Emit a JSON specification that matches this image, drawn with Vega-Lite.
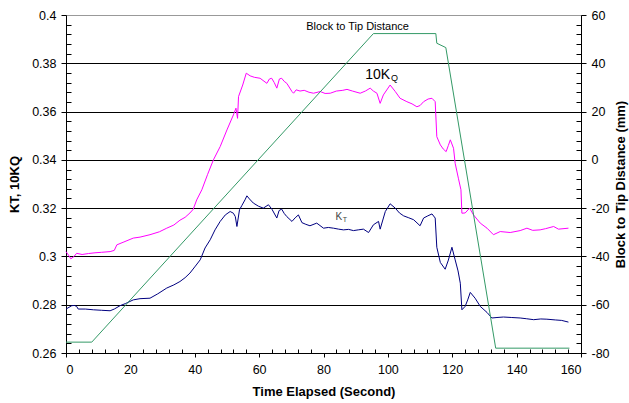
{
  "$schema": "https://vega.github.io/schema/vega-lite/v6.json",
  "width": 515,
  "height": 338,
  "autosize": {"type": "none"},
  "padding": {"left": 66, "top": 15, "right": 48, "bottom": 50},
  "background": "white",
  "config": {
    "font": "Liberation Sans",
    "view": {"stroke": "#999999", "strokeWidth": 1},
    "axis": {
      "labelFont": "Liberation Sans", "labelFontSize": 12.5, "labelColor": "black",
      "titleFont": "Liberation Sans", "titleFontSize": 13, "titleFontWeight": "bold", "titleColor": "black",
      "domainColor": "black", "tickColor": "black", "gridColor": "black", "gridOpacity": 1, "gridWidth": 1
    }
  },
  "datasets": {
    "kq": [
      {"t":0,"v":0.302},{"t":0.8,"v":0.3005},{"t":1.5,"v":0.299},{"t":2.5,"v":0.3},{"t":3.3,"v":0.3013},{"t":5,"v":0.3008},{"t":7,"v":0.3012},{"t":9,"v":0.3015},{"t":11,"v":0.3017},{"t":13.7,"v":0.302},{"t":15,"v":0.3025},{"t":15.8,"v":0.3048},{"t":18,"v":0.306},{"t":20.9,"v":0.3076},{"t":23,"v":0.308},{"t":26.1,"v":0.309},{"t":29,"v":0.3102},{"t":31.3,"v":0.3117},{"t":33.5,"v":0.313},{"t":35.4,"v":0.315},{"t":37,"v":0.3162},{"t":38.5,"v":0.318},{"t":39.5,"v":0.3195},{"t":40.6,"v":0.3234},{"t":42.2,"v":0.3276},{"t":44,"v":0.334},{"t":45.8,"v":0.34},{"t":47.9,"v":0.3455},{"t":50,"v":0.3524},{"t":52,"v":0.3586},{"t":52.8,"v":0.3614},{"t":53.3,"v":0.3572},{"t":53.6,"v":0.3662},{"t":54.9,"v":0.371},{"t":56,"v":0.3759},{"t":57.2,"v":0.3748},{"t":58.5,"v":0.3742},{"t":60.3,"v":0.3738},{"t":62.4,"v":0.3717},{"t":63.2,"v":0.3735},{"t":63.9,"v":0.3738},{"t":64.7,"v":0.372},{"t":65.5,"v":0.3697},{"t":66.3,"v":0.3735},{"t":67,"v":0.3738},{"t":67.8,"v":0.3725},{"t":68.6,"v":0.3717},{"t":70.2,"v":0.3683},{"t":70.7,"v":0.3676},{"t":71.5,"v":0.369},{"t":72.7,"v":0.3685},{"t":74,"v":0.3688},{"t":75.5,"v":0.368},{"t":76.9,"v":0.3676},{"t":79,"v":0.3683},{"t":80.5,"v":0.3675},{"t":82.1,"v":0.3676},{"t":84,"v":0.3685},{"t":86,"v":0.3688},{"t":87.3,"v":0.3692},{"t":89,"v":0.3685},{"t":91.4,"v":0.3676},{"t":93,"v":0.3685},{"t":94.5,"v":0.3697},{"t":95.5,"v":0.3685},{"t":96.6,"v":0.3676},{"t":97.6,"v":0.3634},{"t":98.6,"v":0.3669},{"t":100.7,"v":0.371},{"t":102.3,"v":0.3683},{"t":103.8,"v":0.3655},{"t":105.9,"v":0.3641},{"t":107.5,"v":0.3632},{"t":109,"v":0.362},{"t":110,"v":0.3625},{"t":111.1,"v":0.3641},{"t":112.5,"v":0.3652},{"t":113.7,"v":0.3655},{"t":114.7,"v":0.3641},{"t":115.2,"v":0.3496},{"t":116.3,"v":0.3462},{"t":117.2,"v":0.3445},{"t":118.1,"v":0.3434},{"t":118.8,"v":0.346},{"t":119.4,"v":0.3483},{"t":120.4,"v":0.3448},{"t":120.9,"v":0.3386},{"t":121.9,"v":0.3324},{"t":122.7,"v":0.3276},{"t":123,"v":0.3179},{"t":124,"v":0.318},{"t":125.4,"v":0.32},{"t":126.6,"v":0.3172},{"t":128.7,"v":0.3138},{"t":130.8,"v":0.3117},{"t":132.8,"v":0.309},{"t":134.9,"v":0.3103},{"t":138,"v":0.3099},{"t":141.1,"v":0.3107},{"t":143.2,"v":0.3117},{"t":145,"v":0.3108},{"t":147.3,"v":0.311},{"t":149,"v":0.3115},{"t":151.5,"v":0.3124},{"t":153,"v":0.3113},{"t":156.1,"v":0.3117}
    ],
    "kt": [
      {"t":0,"v":0.2782},{"t":1.8,"v":0.2796},{"t":2.6,"v":0.2797},{"t":3.3,"v":0.2793},{"t":3.8,"v":0.2782},{"t":6,"v":0.2782},{"t":8.5,"v":0.2779},{"t":11,"v":0.2777},{"t":13.7,"v":0.2775},{"t":15,"v":0.2782},{"t":16.8,"v":0.2796},{"t":18.5,"v":0.2805},{"t":20.9,"v":0.282},{"t":23,"v":0.2825},{"t":26.1,"v":0.2827},{"t":28.5,"v":0.2845},{"t":31.3,"v":0.2869},{"t":33.5,"v":0.2882},{"t":35.4,"v":0.2896},{"t":37,"v":0.2912},{"t":38.5,"v":0.2931},{"t":40.2,"v":0.296},{"t":41.7,"v":0.2986},{"t":43.2,"v":0.3035},{"t":44.8,"v":0.3069},{"t":46.3,"v":0.311},{"t":47.9,"v":0.3145},{"t":49.5,"v":0.3172},{"t":51,"v":0.3186},{"t":52,"v":0.3179},{"t":52.6,"v":0.3165},{"t":53.1,"v":0.3124},{"t":53.9,"v":0.3193},{"t":54.6,"v":0.321},{"t":55.6,"v":0.3234},{"t":56.2,"v":0.3251},{"t":57,"v":0.3238},{"t":58.2,"v":0.3221},{"t":59.8,"v":0.3208},{"t":61.3,"v":0.32},{"t":62.9,"v":0.3214},{"t":64,"v":0.3195},{"t":65.5,"v":0.3159},{"t":66.2,"v":0.319},{"t":67,"v":0.3196},{"t":67.8,"v":0.3178},{"t":68.6,"v":0.3165},{"t":70.2,"v":0.3145},{"t":71.2,"v":0.316},{"t":72.2,"v":0.3172},{"t":73.3,"v":0.314},{"t":74.5,"v":0.3133},{"t":75.8,"v":0.3127},{"t":77.9,"v":0.3138},{"t":80,"v":0.3117},{"t":81.5,"v":0.312},{"t":83.1,"v":0.3117},{"t":84.7,"v":0.3113},{"t":86.2,"v":0.311},{"t":87.8,"v":0.3112},{"t":89.3,"v":0.3107},{"t":90.8,"v":0.311},{"t":92.4,"v":0.3113},{"t":94,"v":0.3099},{"t":95.5,"v":0.3131},{"t":97.1,"v":0.3145},{"t":97.6,"v":0.3113},{"t":99.2,"v":0.3186},{"t":100.7,"v":0.3218},{"t":102.3,"v":0.32},{"t":103.6,"v":0.318},{"t":104.9,"v":0.3168},{"t":106.5,"v":0.316},{"t":108,"v":0.3152},{"t":110,"v":0.3127},{"t":111.1,"v":0.3159},{"t":112.4,"v":0.3168},{"t":113.7,"v":0.3176},{"t":114.7,"v":0.3159},{"t":115.2,"v":0.3038},{"t":116.3,"v":0.2975},{"t":117.8,"v":0.2947},{"t":118.8,"v":0.2985},{"t":119.9,"v":0.3038},{"t":120.9,"v":0.2986},{"t":121.8,"v":0.294},{"t":122.5,"v":0.2889},{"t":123,"v":0.2779},{"t":124,"v":0.2793},{"t":124.8,"v":0.282},{"t":125.6,"v":0.2851},{"t":127.1,"v":0.2827},{"t":128.7,"v":0.2793},{"t":130.8,"v":0.2768},{"t":132.3,"v":0.2745},{"t":133.9,"v":0.2747},{"t":135.9,"v":0.2749},{"t":138.5,"v":0.2747},{"t":141.1,"v":0.2745},{"t":143,"v":0.2742},{"t":145.3,"v":0.2738},{"t":147.5,"v":0.2741},{"t":149.4,"v":0.274},{"t":152,"v":0.2737},{"t":154,"v":0.2735},{"t":156.1,"v":0.2728}
    ],
    "dist": [
      {"t":0,"d":-75.5},{"t":8,"d":-75.5},{"t":95.5,"d":52.3},{"t":114.9,"d":52.3},{"t":115.2,"d":48.3},{"t":118,"d":46.5},{"t":133.5,"d":-78},{"t":156.4,"d":-78}
    ]
  },
  "resolve": {"scale": {"y": "independent"}, "axis": {"x": "independent", "y": "independent"}},
  "layer": [
    {
      "data": {"name": "kq"},
      "mark": {"type": "line", "color": "#FF00FF", "strokeWidth": 1, "interpolate": "linear"},
      "encoding": {
        "x": {"field": "t", "type": "quantitative", "scale": {"domain": [0, 160], "nice": false},
          "axis": {"values": [0,20,40,60,80,100,120,140,160], "title": "Time Elapsed (Second)", "tickSize": 4, "labelPadding": 6, "titlePadding": 10, "grid": false}},
        "y": {"field": "v", "type": "quantitative", "scale": {"domain": [0.26, 0.4], "nice": false, "zero": false},
          "axis": {"orient": "left", "values": [0.26,0.28,0.3,0.32,0.34,0.36,0.38,0.4], "format": "~g", "title": "KT, 10KQ", "tickSize": 5, "labelPadding": 5, "titlePadding": 10, "grid": true,
            "gridColor": {"condition": {"test": "datum.value > 0.399", "value": "#999999"}, "value": "black"}}}
      }
    },
    {
      "data": {"name": "kt"},
      "mark": {"type": "line", "color": "#000080", "strokeWidth": 1},
      "encoding": {
        "x": {"field": "t", "type": "quantitative", "scale": {"domain": [0, 160], "nice": false},
          "axis": {"orient": "bottom", "offset": -4, "values": [4,8,12,16,24,28,32,36,44,48,52,56,64,68,72,76,84,88,92,96,104,108,112,116,124,128,132,136,144,148,152,156], "tickSize": 4, "labels": false, "domain": false, "grid": false, "title": null}},
        "y": {"field": "v", "type": "quantitative", "scale": {"domain": [0.26, 0.4], "nice": false, "zero": false},
          "axis": {"orient": "left", "offset": -5, "values": [0.264,0.268,0.272,0.276,0.284,0.288,0.292,0.296,0.304,0.308,0.312,0.316,0.324,0.328,0.332,0.336,0.344,0.348,0.352,0.356,0.364,0.368,0.372,0.376,0.384,0.388,0.392,0.396], "tickSize": 5, "labels": false, "domain": false, "grid": false, "title": null}}
      }
    },
    {
      "data": {"name": "dist"},
      "mark": {"type": "line", "color": "#339966", "strokeWidth": 1},
      "encoding": {
        "x": {"field": "t", "type": "quantitative", "scale": {"domain": [0, 160], "nice": false}, "axis": null},
        "y": {"field": "d", "type": "quantitative", "scale": {"domain": [-80, 60], "nice": false, "zero": false},
          "axis": {"orient": "right", "values": [-80,-60,-40,-20,0,20,40,60], "labelExpr": "datum.value + ''", "title": "Block to Tip Distance (mm)", "titleAngle": 270, "titleBaseline": "top", "tickSize": 5, "labelPadding": 5, "titlePadding": 5, "grid": false}}
      }
    },
    {
      "data": {"values": [{}]},
      "mark": {"type": "text", "text": "Block to Tip Distance", "fontSize": 11, "color": "black", "align": "center", "baseline": "middle"},
      "encoding": {
        "x": {"datum": 90.6, "type": "quantitative", "scale": {"domain": [0, 160], "nice": false}, "axis": null},
        "y": {"datum": 54.9, "type": "quantitative", "scale": {"domain": [-80, 60], "nice": false, "zero": false},
          "axis": {"orient": "right", "offset": -5, "values": [-76,-72,-68,-64,-56,-52,-48,-44,-36,-32,-28,-24,-16,-12,-8,-4,4,8,12,16,24,28,32,36,44,48,52,56], "tickSize": 5, "labels": false, "domain": false, "grid": false, "title": null}}
      }
    },
    {
      "data": {"values": [{}]},
      "mark": {"type": "text", "text": "10K", "fontSize": 14, "color": "black", "align": "right", "baseline": "middle"},
      "encoding": {
        "x": {"datum": 100.7, "type": "quantitative", "scale": {"domain": [0, 160], "nice": false}, "axis": null},
        "y": {"datum": 0.3752, "type": "quantitative", "scale": {"domain": [0.26, 0.4], "nice": false, "zero": false}, "axis": null}
      }
    },
    {
      "data": {"values": [{}]},
      "mark": {"type": "text", "text": "Q", "fontSize": 9, "color": "black", "align": "left", "baseline": "middle"},
      "encoding": {
        "x": {"datum": 101.0, "type": "quantitative", "scale": {"domain": [0, 160], "nice": false}, "axis": null},
        "y": {"datum": 0.3739, "type": "quantitative", "scale": {"domain": [0.26, 0.4], "nice": false, "zero": false}, "axis": null}
      }
    },
    {
      "data": {"values": [{}]},
      "mark": {"type": "text", "text": "K", "fontSize": 10, "color": "#444444", "align": "right", "baseline": "middle"},
      "encoding": {
        "x": {"datum": 85.8, "type": "quantitative", "scale": {"domain": [0, 160], "nice": false}, "axis": null},
        "y": {"datum": 0.3163, "type": "quantitative", "scale": {"domain": [0.26, 0.4], "nice": false, "zero": false}, "axis": null}
      }
    },
    {
      "data": {"values": [{}]},
      "mark": {"type": "text", "text": "T", "fontSize": 7, "color": "#444444", "align": "left", "baseline": "middle"},
      "encoding": {
        "x": {"datum": 85.96, "type": "quantitative", "scale": {"domain": [0, 160], "nice": false}, "axis": null},
        "y": {"datum": 0.3152, "type": "quantitative", "scale": {"domain": [0.26, 0.4], "nice": false, "zero": false}, "axis": null}
      }
    }
  ]
}
